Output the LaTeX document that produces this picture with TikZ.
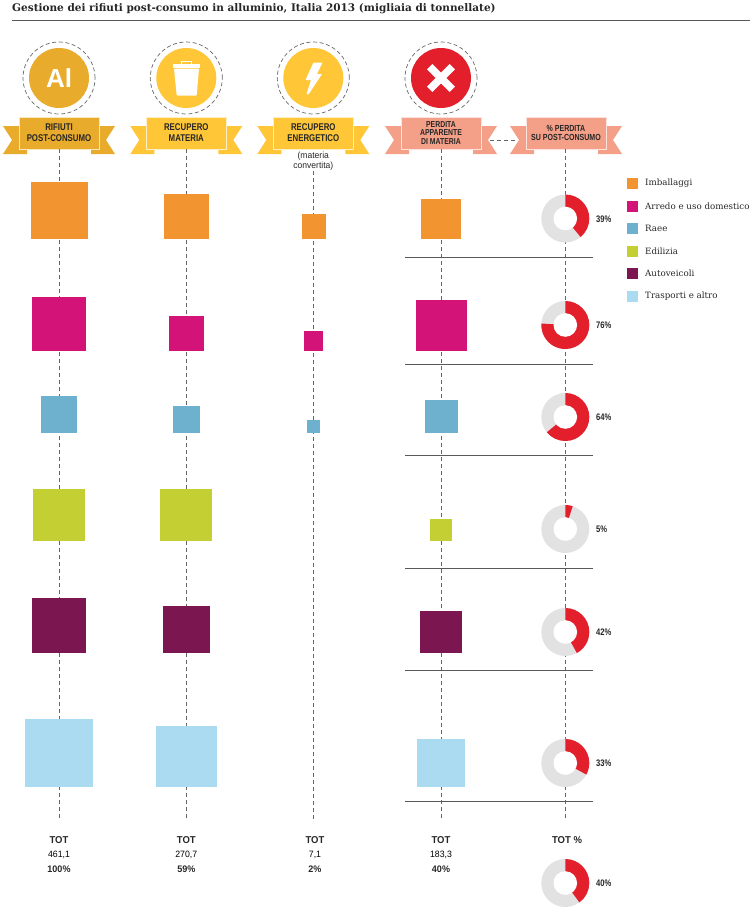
\documentclass[tikz,border=0pt]{standalone}
\usepackage{fontspec}
\setmainfont{Liberation Sans}
\newfontfamily\slabfont{DejaVu Serif}
\newfontfamily\headfont[FakeStretch=0.8]{Liberation Sans}
\newfontfamily\totfont[FakeStretch=0.95]{Liberation Sans}
\definecolor{alu}{HTML}{E9AB2B}
\definecolor{recup}{HTML}{FFC637}
\definecolor{persa}{HTML}{F49F87}
\definecolor{rosso}{HTML}{E31F2B}
\definecolor{grigio}{HTML}{E2E2E2}
\definecolor{imb}{HTML}{F29430}
\definecolor{arr}{HTML}{D31378}
\definecolor{rae}{HTML}{6DB1CF}
\definecolor{edi}{HTML}{C3CF33}
\definecolor{aut}{HTML}{7B1650}
\definecolor{tra}{HTML}{ABDBF0}
\tikzset{
  banner/.style={draw=white!70!#1,fill=#1,line width=0.6pt,minimum width=80pt,minimum height=32pt,inner sep=0pt,align=center,text=black!85,font=\headfont\bfseries\fontsize{9.8}{11}\selectfont},
  sq/.style={anchor=south,inner sep=0pt,minimum width=#1,minimum height=#1},
  tick/.style={dashed,dash pattern=on 4pt off 3pt,draw=black!60,line width=0.8pt},
  halo/.style={dashed,dash pattern=on 4pt off 2.6pt,draw=black!60,line width=0.7pt},
  sep/.style={draw=black!65,line width=0.8pt},
  legbox/.style={inner sep=0pt,minimum width=11pt,minimum height=11pt},
  legtext/.style={anchor=west,inner sep=0pt,text=black!85,font=\slabfont\fontsize{8.7}{10}\selectfont},
  pct/.style={anchor=west,inner sep=0pt,text=black!85,font=\headfont\bfseries\fontsize{9.5}{10}\selectfont},
  tot/.style={inner sep=0pt,text=black!85,font=\totfont\bfseries\fontsize{9.5}{11}\selectfont},
  totval/.style={inner sep=0pt,text=black,font=\totfont\fontsize{9.2}{11}\selectfont}
}
\newcommand{\tails}[2]{%
  \fill[#2] (#1-56,126) -- (#1-32,126) -- (#1-32,154) -- (#1-56,154) -- (#1-47,140) -- cycle;
  \fill[#2] (#1+56,126) -- (#1+32,126) -- (#1+32,154) -- (#1+56,154) -- (#1+47,140) -- cycle;}
\newcommand{\donut}[3]{%
  \fill[grigio] (#1,#2) circle[radius=24pt];
  \fill[rosso] (#1,#2) -- ++(90:24pt) arc[start angle=90,delta angle={-3.6*#3},radius=24pt] -- cycle;
  \fill[white] (#1,#2) circle[radius=11.8pt];}
\begin{document}
\begin{tikzpicture}[x=1pt,y=-1pt]
\useasboundingbox (0,0) rectangle (750,911);
% titolo
\node[anchor=west,inner sep=0pt,text=black!85,font=\slabfont\bfseries\fontsize{10.5}{12}\selectfont] (titolo) at (12,9) {Gestione dei rifiuti post-consumo in alluminio, Italia 2013 (migliaia di tonnellate)};
\coordinate (r0) at (12,20);
\coordinate (r1) at (750,20);
\draw[sep] (r0)--(r1);
% icone
\fill[alu] (59,78) circle[radius=30pt];
\draw[halo] (59,78) circle[radius=36pt];
\node[text=white,font=\fontsize{26}{26}\selectfont\bfseries] (al) at (59,78) {Al};
\fill[recup] (186.3,78) circle[radius=30pt];
\draw[halo] (186.3,78) circle[radius=36pt];
\fill[white] (172.7,63.5) rectangle (200,67.5);
\draw[white,line width=1pt] (181.7,63.5) -- (181.7,61) -- (191.2,61) -- (191.2,63.5);
\fill[white,rounded corners=1pt] (174,68.5) -- (199,68.5) -- (196.7,95.7) -- (176.7,95.7) -- cycle;
\fill[recup] (313.3,78) circle[radius=30pt];
\draw[halo] (313.3,78) circle[radius=36pt];
\fill[white,rounded corners=0.6pt] (313.5,62.5) -- (322.5,62.5) -- (317,74) -- (322,74) -- (308.5,94.5) -- (306.5,94) -- (311,80) -- (305.5,80) -- cycle;
\fill[rosso] (441,78) circle[radius=30pt];
\draw[halo] (441,78) circle[radius=36pt];
\fill[white,rotate around={45:(441,78)}] (425,74.2) rectangle (457,81.8);
\fill[white,rotate around={-45:(441,78)}] (425,74.2) rectangle (457,81.8);
% nastri
\tails{59}{alu}
\node[banner=alu] (hrif) at (59,133) {RIFIUTI\\POST-CONSUMO};
\tails{186.3}{recup}
\node[banner=recup] (hmat) at (186.3,133) {RECUPERO\\MATERIA};
\tails{313.3}{recup}
\node[banner=recup] (hene) at (313.3,133) {RECUPERO\\ENERGETICO};
\tails{441}{persa}
\node[banner=persa,font=\headfont\bfseries\fontsize{8.6}{8.8}\selectfont] (hper) at (441,133) {PERDITA\\APPARENTE\\DI MATERIA};
\tails{566}{persa}
\node[banner=persa,font=\headfont\bfseries\fontsize{8.8}{9}\selectfont] (hpct) at (566,133) {\% PERDITA\\SU POST-CONSUMO};
\node[inner sep=0pt,align=center,text=black!85,font=\totfont\fontsize{9}{10}\selectfont] (conv) at (313.3,161.5) {(materia\\convertita)};
% tratteggi
\coordinate (e1) at (59,820);
\coordinate (e2) at (186.3,820);
\coordinate (e3) at (313.3,820);
\coordinate (e4) at (441,820);
\coordinate (e5) at (565.3,820);
\coordinate (l4) at (490,140);
\coordinate (l5) at (516,140);
\draw[tick] (hrif.south)--(e1);
\draw[tick] (hmat.south)--(e2);
\draw[tick] (conv.south)--(e3);
\draw[tick] (hper.south)--(e4);
\draw[tick] (565.3,149)--(e5);
\draw[tick] (l4)--(l5);
% righe
\draw[sep] (405,257.5)--(593,257.5);
\draw[sep] (405,364)--(593,364);
\draw[sep] (405,455)--(593,455);
\draw[sep] (405,568)--(593,568);
\draw[sep] (405,670)--(593,670);
\draw[sep] (405,801)--(593,801);
% rifiuti
\node[sq=57pt,fill=imb] (a1) at (59,239) {};
\node[sq=54pt,fill=arr] (a2) at (59,351) {};
\node[sq=36.5pt,fill=rae] (a3) at (59,433) {};
\node[sq=52pt,fill=edi] (a4) at (59,541) {};
\node[sq=54.5pt,fill=aut] (a5) at (59,653) {};
\node[sq=68pt,fill=tra] (a6) at (59,787) {};
% materia
\node[sq=45pt,fill=imb] (b1) at (186.3,239) {};
\node[sq=34.5pt,fill=arr] (b2) at (186.3,351) {};
\node[sq=27pt,fill=rae] (b3) at (186.3,433) {};
\node[sq=52pt,fill=edi] (b4) at (186.3,541) {};
\node[sq=46.5pt,fill=aut] (b5) at (186.3,653) {};
\node[sq=60.5pt,fill=tra] (b6) at (186.3,787) {};
% energia
\node[sq=24.5pt,fill=imb] (c1) at (313.8,239) {};
\node[sq=19.5pt,fill=arr] (c2) at (313.5,351) {};
\node[sq=13pt,fill=rae] (c3) at (313.5,433) {};
% perdita
\node[sq=40pt,fill=imb] (d1) at (441,239) {};
\node[sq=51pt,fill=arr] (d2) at (441,351) {};
\node[sq=33pt,fill=rae] (d3) at (441,433) {};
\node[sq=22pt,fill=edi] (d4) at (441,541) {};
\node[sq=42pt,fill=aut] (d5) at (441,653) {};
\node[sq=48pt,fill=tra] (d6) at (441,787) {};
% percentuali
\donut{565.3}{218.5}{39}
\node[pct] (p1) at (596,219) {39\%};
\donut{565.3}{325}{76}
\node[pct] (p2) at (596,325) {76\%};
\donut{565.3}{417}{64}
\node[pct] (p3) at (596,417) {64\%};
\donut{565.3}{529}{5}
\node[pct] (p4) at (596,529) {5\%};
\donut{565.3}{632}{42}
\node[pct] (p5) at (596,632) {42\%};
\donut{565.3}{763}{33}
\node[pct] (p6) at (596,763) {33\%};
\donut{565.3}{883}{40}
\node[pct] (p7) at (596,883) {40\%};
% legenda
\node[legbox,fill=imb] (l1) at (632,183.5) {};
\node[legtext] (lt1) at (645,183.5) {Imballaggi};
\node[legbox,fill=arr] (l2) at (632,206) {};
\node[legtext] (lt2) at (645,206) {Arredo e uso domestico};
\node[legbox,fill=rae] (l3) at (632,228.5) {};
\node[legtext] (lt3) at (645,228.5) {Raee};
\node[legbox,fill=edi] (l4b) at (632,251) {};
\node[legtext] (lt4) at (645,251) {Edilizia};
\node[legbox,fill=aut] (l5b) at (632,273.5) {};
\node[legtext] (lt5) at (645,273.5) {Autoveicoli};
\node[legbox,fill=tra] (l6) at (632,296) {};
\node[legtext] (lt6) at (645,296) {Trasporti e altro};
% totali
\node[tot,font=\totfont\bfseries\fontsize{10}{11}\selectfont] (t1) at (59,840) {TOT};
\node[totval] (v1) at (59,855) {461,1};
\node[tot] (s1) at (59,869.5) {100\%};
\node[tot,font=\totfont\bfseries\fontsize{10}{11}\selectfont] (t2) at (186.3,840) {TOT};
\node[totval] (v2) at (186.3,855) {270,7};
\node[tot] (s2) at (186.3,869.5) {59\%};
\node[tot,font=\totfont\bfseries\fontsize{10}{11}\selectfont] (t3) at (315,840) {TOT};
\node[totval] (v3) at (315,855) {7,1};
\node[tot] (s3) at (315,869.5) {2\%};
\node[tot,font=\totfont\bfseries\fontsize{10}{11}\selectfont] (t4) at (441,840) {TOT};
\node[totval] (v4) at (441,855) {183,3};
\node[tot] (s4) at (441,869.5) {40\%};
\node[tot,font=\totfont\bfseries\fontsize{10}{11}\selectfont] (t5) at (567,840) {TOT \%};
\end{tikzpicture}
\end{document}
